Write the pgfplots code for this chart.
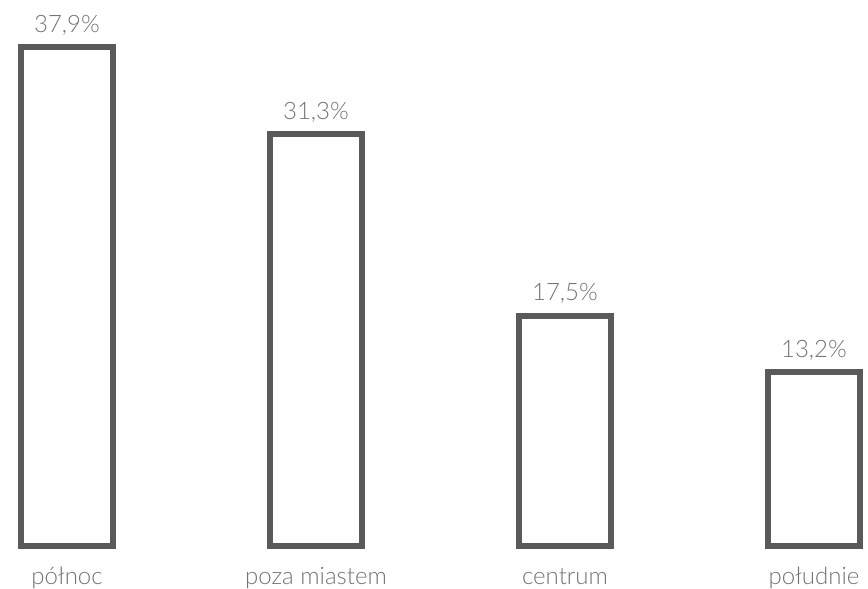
\documentclass[border=0pt]{standalone}
\usepackage{pgfplots}
\pgfplotsset{compat=1.18}
\usepackage{fontspec}
\setmainfont{Lato Light}
\definecolor{barc}{HTML}{5A5A5A}
\definecolor{txtc}{HTML}{737373}
\begin{document}
\begin{tikzpicture}
\path[use as bounding box] (0,0) rectangle (868pt,589pt);
\begin{axis}[
  at={(0pt,43pt)}, anchor=south west,
  scale only axis, width=868pt, height=546pt,
  xmin=-0.2691, xmax=3.2169, ymin=0, ymax=41.49,
  axis line style={draw=none}, clip=false,
  xtick={0,1,2,3}, major tick length=0pt,
  xticklabels={północ, poza miastem, centrum, południe},
  xticklabel style={anchor=base, yshift=-39pt, font=\fontsize{24}{28}\selectfont, text=txtc},
  ytick=\empty,
  /pgf/number format/assume math mode=true,
  nodes near coords={\pgfmathprintnumber[fixed, fixed zerofill, precision=1, use comma, assume math mode=true]{\pgfplotspointmeta}\%},
  nodes near coords style={anchor=base, yshift=15pt, font=\fontsize{24}{28}\selectfont, text=txtc},
]
\addplot[ybar, bar width=92pt, bar shift=0pt, draw=barc, line width=6pt, fill=none]
  coordinates {(0,37.9) (1,31.3) (2,17.5) (3,13.2)};
\end{axis}
\end{tikzpicture}
\end{document}
